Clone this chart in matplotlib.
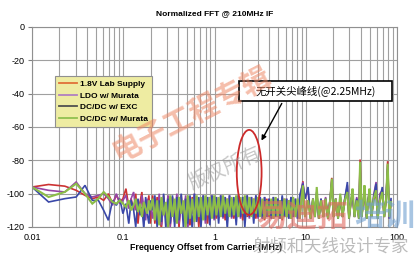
import matplotlib.pyplot as plt
from matplotlib.lines import Line2D
from matplotlib.patches import Ellipse, Rectangle
from matplotlib.ticker import LogLocator, NullFormatter

plt.rcParams['axes.unicode_minus'] = False

# frequency offset (MHz), first the low FFT bins, then the dense part
freqs = [0.010, 0.0152, 0.0229, 0.0305, 0.0381, 0.0458, 0.0534, 0.0610, 0.0687, 0.0763, 0.0840, 0.0916, 0.0992,
         0.107, 0.115, 0.122, 0.130, 0.137, 0.145, 0.153, 0.160, 0.168, 0.176, 0.183, 0.191, 0.198,
         0.21, 0.222, 0.235, 0.248, 0.262, 0.277, 0.293, 0.310, 0.327, 0.346,
         0.366, 0.387, 0.409, 0.432, 0.457, 0.483, 0.510, 0.539, 0.570, 0.602,
         0.637, 0.673, 0.711, 0.752, 0.795, 0.840, 0.888, 0.938, 0.992, 1.05,
         1.11, 1.17, 1.24, 1.31, 1.38, 1.46, 1.54, 1.63, 1.73, 1.82,
         1.93, 2.04, 2.15, 2.28, 2.41, 2.54, 2.69, 2.84, 3.00, 3.17,
         3.35, 3.54, 3.75, 3.96, 4.19, 4.42, 4.68, 4.94, 5.22, 5.52,
         5.84, 6.17, 6.52, 6.89, 7.28, 7.70, 8.14, 8.60, 9.30, 9.80,
         10.6, 11.3, 12.0, 12.6, 13.2, 13.9, 14.7, 15.6, 16.5, 17.5,
         18.5, 19.3, 20.2, 21.3, 22.6, 23.9, 25.3, 26.8, 28.6, 29.8,
         31.5, 32.6, 34.2, 36.2, 38.2, 39.4, 41.0, 43.0, 44.0, 46.5,
         48.5, 50.0, 52.5, 55.5, 59.0, 61.5, 65.0, 69.0, 72.5, 76.0,
         79.0, 82.5, 86.0]

lab_supply = [-96, -94.5, -95.5, -98, -101, -103, -102, -104, -100, -106, -101, -105, -103,
              -97, -108, -103, -110, -100, -118, -105, -99, -115, -104, -108, -101, -118,
              -101, -118, -102, -113, -121, -101, -115, -104, -119, -102,
              -117, -104, -120, -101, -116, -103, -113, -119, -102, -115,
              -104, -120, -103, -114, -104, -118, -103, -113, -104, -115,
              -103, -114, -104, -116, -103, -113, -104, -115, -103, -114,
              -104, -116, -103, -114, -104, -113, -103, -115, -104, -114,
              -104, -116, -103, -114, -104, -115, -103, -114, -104, -116,
              -103, -114, -104, -115, -103, -114, -104, -115, -92.5, -114,
              -104, -115, -103, -114, -100, -115, -104, -114, -103, -115,
              -104, -90.5, -114, -103, -115, -104, -114, -103, -101, -115,
              -104, -102, -114, -103, -115, -79.5, -114, -104, -100, -115,
              -103, -101, -114, -104, -100, -115, -103, -101, -114, -104,
              -80.5, -115, -105]

ldo_murata = [-96, -98, -99, -93, -100, -102, -101, -100, -103, -107, -100, -106, -104,
              -101, -109, -103, -99, -110, -105, -112, -101, -108, -116, -103, -110, -106,
              -115, -104, -113, -100, -119, -106, -112, -101, -120, -103,
              -111, -100, -118, -104, -113, -101, -121, -102, -112, -100,
              -116, -103, -113, -101, -118, -102, -113, -101, -116, -102,
              -114, -101, -115, -102, -113, -101, -115, -103, -114, -101,
              -115, -102, -113, -101, -115, -102, -114, -101, -115, -103,
              -115, -102, -114, -103, -115, -102, -114, -103, -115, -102,
              -114, -103, -115, -102, -114, -103, -115, -102, -93, -103,
              -98, -115, -103, -114, -99, -115, -103, -114, -102, -115,
              -103, -92, -114, -103, -115, -102, -114, -103, -95, -115,
              -103, -101, -114, -102, -115, -82, -114, -103, -99, -115,
              -102, -98, -114, -101, -93, -115, -100, -98, -114, -102,
              -83, -115, -104]

dcdc_exc = [-96, -105, -103, -102, -95, -104, -104, -110, -116, -104, -107, -103, -112,
            -106, -118, -104, -110, -120, -103, -113, -108, -121, -102, -112, -118, -104,
            -110, -101, -120, -104, -117, -100, -121, -103, -118, -101,
            -120, -102, -116, -100, -121, -103, -118, -101, -122, -100,
            -117, -102, -120, -101, -116, -102, -119, -101, -115, -102,
            -118, -101, -114, -102, -121, -101, -114, -102, -119, -101,
            -114, -102, -120, -101, -114, -102, -118, -101, -114, -102,
            -115, -102, -114, -103, -115, -102, -114, -103, -115, -101,
            -114, -103, -115, -102, -114, -103, -115, -101, -94, -103,
            -96, -115, -103, -114, -99, -115, -103, -114, -103, -115,
            -103, -93, -114, -103, -115, -102, -114, -103, -93, -115,
            -103, -100, -114, -103, -115, -84, -114, -103, -97, -115,
            -103, -99, -114, -102, -94, -115, -103, -96, -114, -102,
            -85, -115, -103]

dcdc_murata = [-96, -102, -99, -94, -100, -106, -103, -99, -102, -105, -106, -104, -106,
               -108, -104, -110, -107, -103, -111, -106, -114, -105, -109, -112, -104, -110,
               -103, -116, -104, -119, -102, -113, -105, -121, -101, -114,
               -103, -118, -102, -112, -104, -120, -101, -115, -103, -117,
               -101, -114, -102, -116, -101, -113, -102, -115, -101, -113,
               -102, -114, -101, -112, -103, -114, -102, -113, -101, -114,
               -102, -112, -101, -113, -102, -114, -103, -112, -102, -114,
               -103, -115, -104, -113, -103, -115, -102, -114, -104, -115,
               -103, -114, -104, -115, -102, -114, -103, -115, -95, -114,
               -104, -115, -103, -114, -96, -115, -104, -114, -103, -115,
               -104, -91, -114, -103, -115, -100, -114, -104, -99, -115,
               -103, -97, -114, -104, -115, -81, -114, -103, -95, -115,
               -104, -97, -114, -103, -98, -115, -104, -99, -114, -103,
               -82, -114, -105]

series_names = ['1.8V Lab Supply', 'LDO w/ Murata', 'DC/DC w/ EXC', 'DC/DC w/ Murata']
line_colors = ['#cc3333', '#9545a5', '#3a48a8', '#8cbd48']
line_widths = [1.2, 1.2, 1.2, 1.5]
legend_colors = ['#e07038', '#b080c0', '#505050', '#90c050']

y_ticks = [0, -20, -40, -60, -80, -100, -120]
x_ticks = [0.01, 0.1, 1, 10, 100]
x_tick_labels = ['0.01', '0.1', '1', '10', '100']

narrow = ['Liberation Sans Narrow', 'Liberation Sans', 'DejaVu Sans']
cjk = ['Noto Sans CJK SC', 'DejaVu Sans']

fig = plt.figure(figsize=(4.17, 2.6), dpi=100)
ax = fig.add_axes([32 / 417, 33 / 260, 365 / 417, 200 / 260])

for vals, col, w in zip([lab_supply, ldo_murata, dcdc_exc, dcdc_murata], line_colors, line_widths):
    ax.plot(freqs, vals, color=col, lw=w, solid_joinstyle='miter')

ax.set_xscale('log')
ax.set_xlim(0.01, 100)
ax.set_ylim(-120, 0)
ax.xaxis.set_minor_locator(LogLocator(base=10, subs=range(2, 10)))
ax.xaxis.set_minor_formatter(NullFormatter())
ax.set_xticks(x_ticks)
ax.set_xticklabels(x_tick_labels, family=narrow, fontsize=6.5)
ax.set_yticks(y_ticks)
ax.set_yticklabels([str(t) for t in y_ticks], family=narrow, fontsize=6.5)
ax.grid(True, which='both', axis='x', color='#a0a0a0', lw=0.8)
ax.grid(True, which='major', axis='y', color='#a0a0a0', lw=0.8)
ax.tick_params(axis='x', which='both', length=0, pad=4)
ax.tick_params(axis='y', length=3, pad=2, color='#808080')
for sp in ax.spines.values():
    sp.set_color('#909090')
    sp.set_linewidth(0.8)

handles = [Line2D([], [], color=c, lw=1.3) for c in legend_colors]
leg = ax.legend(handles, series_names, loc='upper left', bbox_to_anchor=(0.063, 0.755),
                borderaxespad=0, fancybox=False, framealpha=1, facecolor='#eeeca2',
                edgecolor='#909090', prop={'family': narrow, 'weight': 'bold', 'size': 6},
                handlelength=2.2, handletextpad=0.3, labelspacing=0.45, borderpad=0.5)
leg.get_frame().set_linewidth(0.8)

# annotation: red ellipse, callout box and arrow
ax.add_patch(Ellipse((0.595, 0.273), 0.068, 0.425, transform=ax.transAxes,
                     fill=False, ec='#cc2a2a', lw=1.3, zorder=5))
ax.add_patch(Rectangle((0.567, 0.63), 0.419, 0.10, transform=ax.transAxes,
                       fc='white', ec='black', lw=1.2, zorder=6))
ax.text(0.777, 0.68, '无开关尖峰线(@2.25MHz)', transform=ax.transAxes, ha='center',
        va='center', fontsize=7.5, family=cjk, zorder=7)
ax.annotate('', xy=(0.625, 0.42), xytext=(0.688, 0.63), xycoords='axes fraction',
            arrowprops=dict(arrowstyle='-|>', color='black', lw=1.0, mutation_scale=7),
            zorder=7)

fig.text(215 / 417, 1 - 14 / 260, 'Normalized FFT @ 210MHz IF', ha='center', va='center',
         fontsize=6, fontweight='bold', family=narrow)
fig.text(206 / 417, 1 - 248 / 260, 'Frequency Offset from Carrier (MHz)', ha='center',
         va='center', fontsize=6.3, fontweight='bold', family=narrow)

# watermarks
fig.text(192 / 417, 1 - 115 / 260, '电子工程专辑', ha='center', va='center', rotation=27,
         fontsize=21, fontweight='bold', family=cjk, color='#ee8866', alpha=0.55)
fig.text(225 / 417, 1 - 168 / 260, '版权所有', ha='center', va='center', rotation=24,
         fontsize=14, family=cjk, color='#999999', alpha=0.55)
fig.text(302 / 417, 1 - 217 / 260, '易迪拓', ha='center', va='center',
         fontsize=22, fontweight='bold', family=cjk, color='#e06a60', alpha=0.6)
fig.text(385 / 417, 1 - 217 / 260, '培训', ha='center', va='center',
         fontsize=22, fontweight='bold', family=cjk, color='#6f9fd0', alpha=0.6)
fig.text(331 / 417, 1 - 247 / 260, '射频和天线设计专家', ha='center', va='center',
         fontsize=12.5, family=cjk, color='#aaaaaa', alpha=0.8)

fig.savefig('out.png', dpi=100)
